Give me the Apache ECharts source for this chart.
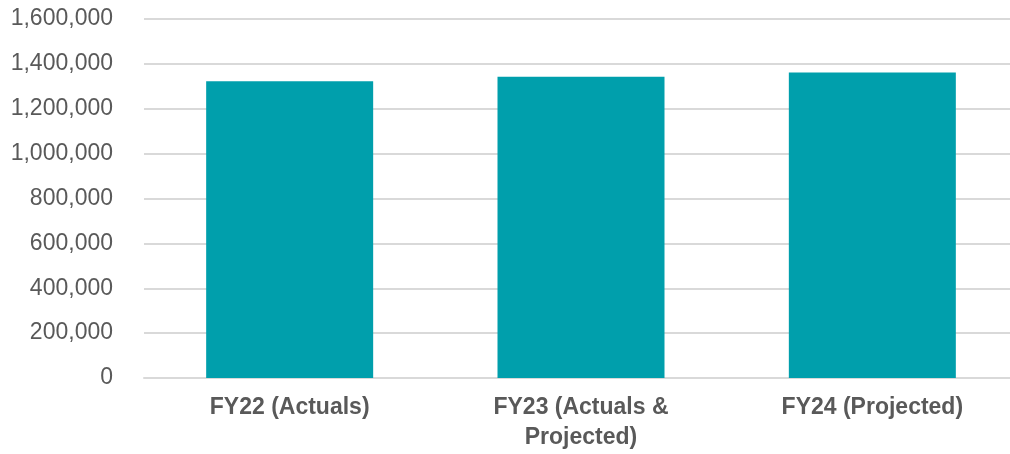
<!DOCTYPE html>
<html>
<head>
<meta charset="utf-8">
<script src="https://cdn.jsdelivr.net/npm/echarts@6/dist/echarts.min.js"></script>
<style>
  html, body { margin: 0; padding: 0; background: #ffffff; overflow: hidden; width: 1010px; height: 454px; }
  /* the plot runs a little past the visible right edge */
  #chart { width: 1018px; height: 454px; }
</style>
</head>
<body>
<div id="chart"></div>
<script>
// Fiscal-year categories and yearly totals
const categories = ['FY22 (Actuals)', 'FY23 (Actuals &\nProjected)', 'FY24 (Projected)'];
const totals = [1323000, 1343000, 1362000];
const yTicks = [0, 200000, 400000, 600000, 800000, 1000000, 1200000, 1400000, 1600000];

const chart = echarts.init(document.getElementById('chart'), null, { renderer: 'canvas' });

chart.setOption({
  animation: false,
  backgroundColor: '#ffffff',
  grid: { left: 144, right: 0, top: 19, bottom: 76, containLabel: false },
  xAxis: {
    type: 'category',
    data: categories,
    axisTick: { show: false },
    axisLine: { show: true, lineStyle: { color: '#d9d9d9', width: 2 } },
    axisLabel: {
      color: '#595959',
      fontFamily: 'Liberation Sans, Arial, sans-serif',
      fontSize: 23,
      fontWeight: 'bold',
      lineHeight: 30,
      margin: 15,
      interval: 0
    }
  },
  yAxis: {
    type: 'value',
    min: yTicks[0],
    max: yTicks[yTicks.length - 1],
    interval: yTicks[1] - yTicks[0],
    axisLine: { show: false },
    axisTick: { show: false },
    splitLine: { lineStyle: { color: '#d9d9d9', width: 2 } },
    axisLabel: {
      color: '#595959',
      fontFamily: 'Liberation Sans, Arial, sans-serif',
      fontSize: 23,
      margin: 31,
      formatter: v => v.toLocaleString('en-US')
    }
  },
  series: [{
    type: 'bar',
    data: totals,
    barWidth: 167,
    itemStyle: { color: '#009FAC' }
  }]
});
</script>
</body>
</html>
